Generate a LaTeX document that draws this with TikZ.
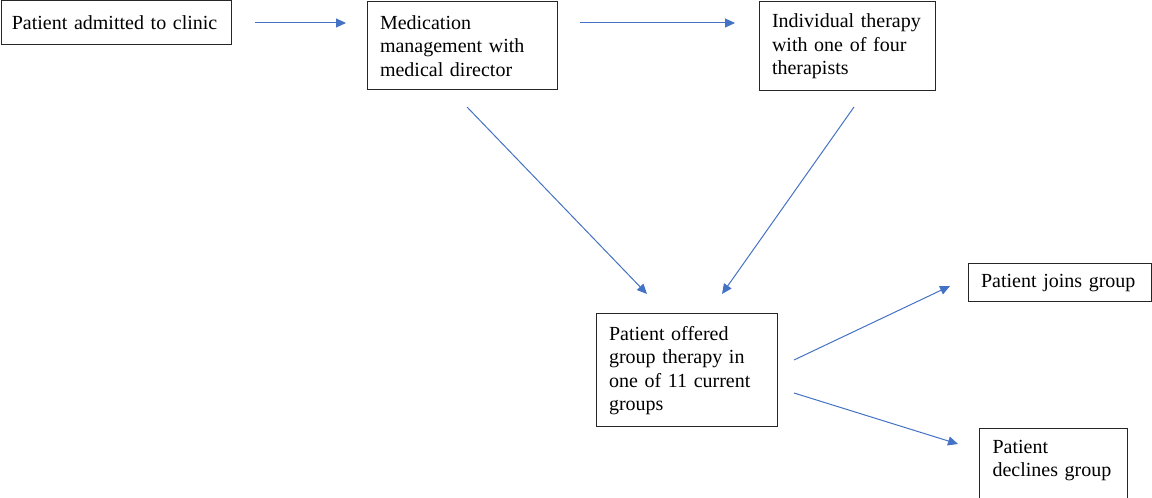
\documentclass[tikz,border=0pt]{standalone}
\usepackage{fontspec}
\setmainfont{Liberation Serif}
\usetikzlibrary{arrows.meta}
\definecolor{flowblue}{RGB}{68,114,196}

\begin{document}
\begin{tikzpicture}[x=0.75pt,y=-0.75pt,
  box/.style={draw=black!85,line width=0.75pt,align=left,inner xsep=9.75pt,
    font=\fontsize{15}{17.6}\selectfont},
  flow/.style={flowblue,line width=0.75pt,-{Triangle[length=7.5pt,width=6.75pt]}}]
  \useasboundingbox (0,0) rectangle (1152,498);
  \node[box,text width=157pt,inner xsep=8.1pt,minimum height=33pt] (admit) at (116.5,23) {Patient admitted to clinic};
  \node[box,text width=123pt,minimum height=66pt] (medic) at (462,46) {Medication\\management with\\medical director};
  \node[box,text width=112.5pt,minimum height=66.75pt] (indiv) at (847,46.5) {Individual therapy\\with one of four\\therapists};
  \node[box,text width=116.25pt,minimum height=84.75pt] (offer) at (686.5,370.5) {Patient offered\\group therapy in\\one of 11 current\\groups};
  \node[box,text width=118.1pt,minimum height=28.5pt] (joins) at (1059.75,283) {Patient joins group};
  \node[box,text width=91.5pt,anchor=north west,inner ysep=8.5pt,text depth=60pt] (decline) at (979,428) {Patient\\declines group};

  \coordinate (admit-out) at (255,23);
  \coordinate (medic-in) at (346,23);
  \coordinate (medic-out) at (580,23);
  \coordinate (indiv-in) at (735,23);
  \coordinate (medic-down) at (467,107);
  \coordinate (indiv-down) at (854,107);
  \coordinate (offer-in1) at (647,294);
  \coordinate (offer-in2) at (722,294);
  \coordinate (offer-up) at (794,360);
  \coordinate (offer-dn) at (794,393);
  \coordinate (joins-in) at (950,286);
  \coordinate (decline-in) at (958,444);

  \draw[flow] (admit-out) -- (medic-in);
  \draw[flow] (medic-out) -- (indiv-in);
  \draw[flow] (medic-down) -- (offer-in1);
  \draw[flow] (indiv-down) -- (offer-in2);
  \draw[flow] (offer-up) -- (joins-in);
  \draw[flow] (offer-dn) -- (decline-in);
\end{tikzpicture}
\end{document}
